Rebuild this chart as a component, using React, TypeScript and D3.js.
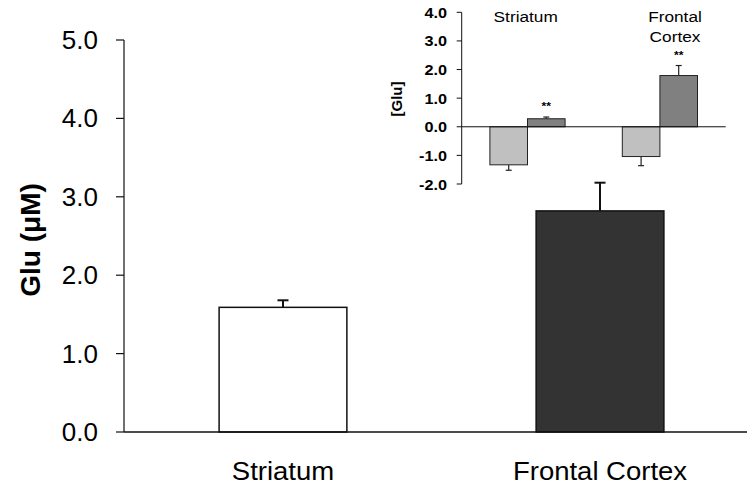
import React from "react";
import * as d3 from "d3";

// Main panel: absolute glutamate level per region
const regions = ["Striatum", "Frontal Cortex"];
const mainMeans = [1.59, 2.82];
const mainErr = [0.09, 0.36];
const mainFills = ["#ffffff", "#333333"];
const mainTicks = [0, 1, 2, 3, 4, 5];

// Inset: change in [Glu], two conditions per region
const insetRegions = ["Striatum", "Frontal Cortex"];
const insetConditions = ["a", "b"];
const insetMeans = [
  [-1.33, 0.28],
  [-1.04, 1.79],
];
const insetErr = [
  [0.19, 0.06],
  [0.32, 0.35],
];
const insetStars = [["", "**"], ["", "**"]];
const insetFills = ["#c0c0c0", "#808080"];
const insetTicks = [-2, -1, 0, 1, 2, 3, 4];

const FONT = "'Liberation Sans', Arial, Helvetica, sans-serif";

function SText(props: {
  x: number;
  y: number;
  sx?: number;
  rotate?: number;
  anchor?: string;
  size: number;
  bold?: boolean;
  children: React.ReactNode;
}) {
  const { x, y, sx = 1, rotate = 0, anchor = "middle", size, bold, children } = props;
  return (
    <text
      transform={`translate(${x},${y}) scale(${sx},1) rotate(${rotate})`}
      textAnchor={anchor}
      fontFamily={FONT}
      fontSize={size}
      fontWeight={bold ? "bold" : "normal"}
      fill="#000"
    >
      {children}
    </text>
  );
}

export default function App() {
  const W = 749;
  const H = 495;

  // main scales
  const y = d3.scaleLinear().domain([0, 5]).range([432, 40]);
  const x = d3
    .scaleBand<string>()
    .domain(regions)
    .range([124, 759])
    .paddingInner(0.597)
    .paddingOuter(0.3);
  const axisX = 124;
  const axisRight = 747;

  // inset scales
  const yi = d3.scaleLinear().domain([-2, 4]).range([184, 12.3]);
  const xi = d3
    .scaleBand<string>()
    .domain(insetRegions)
    .range([461.7, 725.7])
    .paddingInner(0.432)
    .paddingOuter(0.213);
  const xs = d3
    .scaleBand<string>()
    .domain(insetConditions)
    .range([0, xi.bandwidth()]);
  const insetAxisX = 461.7;

  const fmt = d3.format(".1f");
  const fmtNeg = (v: number) => (v < 0 ? "-" + fmt(-v) : fmt(v));

  return (
    <svg
      width={W}
      height={H}
      style={{ position: "absolute", left: 0, top: 0, background: "#fff" }}
    >
      <rect x={0} y={0} width={W} height={H} fill="#fff" />

      {/* main bars */}
      {regions.map((r, i) => {
        const bx = x(r)!;
        const bw = x.bandwidth();
        const cx = bx + bw / 2;
        const top = y(mainMeans[i]);
        const errTop = y(mainMeans[i] + mainErr[i]);
        return (
          <g key={r}>
            <line x1={cx} x2={cx} y1={top} y2={errTop} stroke="#111" strokeWidth={2} />
            <line x1={cx - 5.5} x2={cx + 5.5} y1={errTop} y2={errTop} stroke="#111" strokeWidth={2} />
            <rect
              x={bx}
              y={top}
              width={bw}
              height={y(0) - top}
              fill={mainFills[i]}
              stroke="#111"
              strokeWidth={1.5}
            />
          </g>
        );
      })}

      {/* main axes */}
      <line x1={axisX} x2={axisRight} y1={y(0)} y2={y(0)} stroke="#111" strokeWidth={1.5} />
      <line x1={axisX} x2={axisX} y1={y(0)} y2={y(5)} stroke="#111" strokeWidth={1.2} />
      {mainTicks.map((t) => (
        <g key={t}>
          <line x1={axisX - 8} x2={axisX} y1={y(t)} y2={y(t)} stroke="#111" strokeWidth={1.2} />
          <SText x={98} y={y(t) + 9} anchor="end" size={25} sx={1.04}>
            {fmt(t)}
          </SText>
        </g>
      ))}
      {regions.map((r) => (
        <SText key={r} x={x(r)! + x.bandwidth() / 2} y={480} size={25} sx={1.1}>
          {r}
        </SText>
      ))}
      <SText x={40} y={240} rotate={-90} size={28} bold>
        Glu (μM)
      </SText>

      {/* inset */}
      {insetRegions.map((r, gi) => (
        <g key={r} transform={`translate(${xi(r)},0)`}>
          {insetConditions.map((c, ci) => {
            const v = insetMeans[gi][ci];
            const e = insetErr[gi][ci];
            const bx = xs(c)!;
            const bw = xs.bandwidth();
            const cx = bx + bw / 2;
            const y0 = yi(0);
            const yv = yi(v);
            const ye = yi(v + (v < 0 ? -e : e));
            return (
              <g key={c}>
                <line x1={cx} x2={cx} y1={yv} y2={ye} stroke="#222" strokeWidth={1.2} />
                <line x1={cx - 3} x2={cx + 3} y1={ye} y2={ye} stroke="#222" strokeWidth={1.2} />
                <rect
                  x={bx}
                  y={Math.min(y0, yv)}
                  width={bw}
                  height={Math.abs(yv - y0)}
                  fill={insetFills[ci]}
                  stroke="#222"
                  strokeWidth={1}
                />
                {insetStars[gi][ci] && (
                  <SText x={cx} y={ye - 7} size={11} bold sx={1.1}>
                    {insetStars[gi][ci]}
                  </SText>
                )}
              </g>
            );
          })}
        </g>
      ))}
      <line x1={insetAxisX} x2={725.7} y1={yi(0)} y2={yi(0)} stroke="#111" strokeWidth={1} />
      <line x1={insetAxisX} x2={insetAxisX} y1={yi(-2)} y2={yi(4)} stroke="#111" strokeWidth={1} />
      {insetTicks.map((t) => (
        <g key={t}>
          <line x1={insetAxisX - 5} x2={insetAxisX} y1={yi(t)} y2={yi(t)} stroke="#111" strokeWidth={1} />
          <SText x={447} y={yi(t) + 5.5} anchor="end" size={15} bold sx={1.08}>
            {fmtNeg(t)}
          </SText>
        </g>
      ))}
      <SText x={525.7} y={22} size={15} sx={1.15}>
        Striatum
      </SText>
      <SText x={675} y={22} size={15} sx={1.15}>
        Frontal
      </SText>
      <SText x={675} y={42} size={15} sx={1.15}>
        Cortex
      </SText>
      <SText x={402} y={99} rotate={-90} size={15} bold>
        [Glu]
      </SText>
    </svg>
  );
}
